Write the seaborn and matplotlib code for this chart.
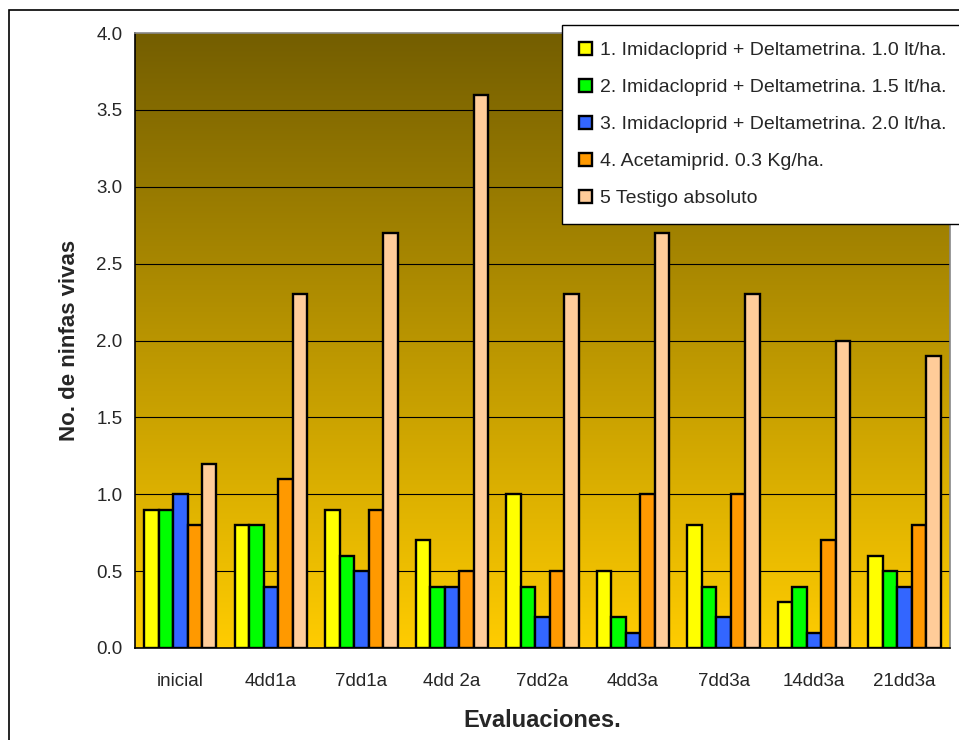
import numpy as np
import pandas as pd
import seaborn as sns
import matplotlib.pyplot as plt
from matplotlib.colors import LinearSegmentedColormap
from matplotlib.patches import Rectangle

evaluaciones = ["inicial", "4dd1a", "7dd1a", "4dd 2a", "7dd2a",
                "4dd3a", "7dd3a", "14dd3a", "21dd3a"]
tratamientos = ["1. Imidacloprid + Deltametrina. 1.0 lt/ha.",
                "2. Imidacloprid + Deltametrina. 1.5 lt/ha.",
                "3. Imidacloprid + Deltametrina. 2.0 lt/ha.",
                "4. Acetamiprid. 0.3 Kg/ha.",
                "5 Testigo absoluto"]
t1 = [0.9, 0.8, 0.9, 0.7, 1.0, 0.5, 0.8, 0.3, 0.6]
t2 = [0.9, 0.8, 0.6, 0.4, 0.4, 0.2, 0.4, 0.4, 0.5]
t3 = [1.0, 0.4, 0.5, 0.4, 0.2, 0.1, 0.2, 0.1, 0.4]
t4 = [0.8, 1.1, 0.9, 0.5, 0.5, 1.0, 1.0, 0.7, 0.8]
t5 = [1.2, 2.3, 2.7, 3.6, 2.3, 2.7, 2.3, 2.0, 1.9]
colores = ["#ffff00", "#00ff00", "#3366ff", "#ff9900", "#ffcc99"]

rows = []
for trat, vals in zip(tratamientos, [t1, t2, t3, t4, t5]):
    for ev, v in zip(evaluaciones, vals):
        rows.append({"eval": ev, "valor": v, "trat": trat})
df = pd.DataFrame(rows)

sns.set_style("white")
plt.rcParams['font.family'] = ['Liberation Sans', 'DejaVu Sans']

fig = plt.figure(figsize=(9.59, 7.40), dpi=100)
ax = fig.add_axes([135 / 959, 92 / 740, 815 / 959, 615 / 740])

# fondo degradado
cmap = LinearSegmentedColormap.from_list("fondo", ["#ffcc00", "#745e00"])
grad = np.linspace(0, 1, 256).reshape(-1, 1)
ax.imshow(grad, cmap=cmap, origin="lower", aspect="auto",
          extent=[-0.5, 8.5, 0, 4], zorder=0)

for y in np.arange(0.5, 4.0, 0.5):
    ax.axhline(y, color="black", linewidth=0.8, zorder=1)

sns.barplot(data=df, x="eval", y="valor", hue="trat", palette=colores,
            saturation=1, edgecolor="black", linewidth=1.7, gap=0, width=0.8,
            errorbar=None, ax=ax, zorder=2)

ax.set_xlim(-0.5, 8.5)
ax.set_ylim(0, 4)
ax.set_yticks(np.arange(0, 4.01, 0.5))
ax.set_yticklabels([f"{v:.1f}" for v in np.arange(0, 4.01, 0.5)],
                   fontsize=13.5)
ax.set_xticks(range(len(evaluaciones)))
ax.set_xticklabels(evaluaciones, fontsize=13.5)
ax.set_xticks(np.arange(-0.5, 8.6, 1), minor=True)
ax.tick_params(axis="x", which="major", length=0, pad=18)
ax.tick_params(axis="x", which="minor", length=5, width=1, color="black",
               direction="out")
ax.tick_params(axis="y", length=5, width=1, color="black", direction="out",
               pad=4)
ax.set_xlabel("Evaluaciones.", fontsize=17, fontweight="bold", labelpad=14)
ax.set_ylabel("No. de ninfas vivas", fontsize=16, fontweight="bold",
              labelpad=12)

for s in ["left", "bottom"]:
    ax.spines[s].set_color("black")
    ax.spines[s].set_linewidth(1.2)
for s in ["top", "right"]:
    ax.spines[s].set_color("#888888")
    ax.spines[s].set_linewidth(1.2)

handles, labels = ax.get_legend_handles_labels()
ax.get_legend().remove()
leg = fig.legend(handles, labels, loc="upper left",
                 bbox_to_anchor=(562 / 959, 1 - 25 / 740),
                 fontsize=14, frameon=True, fancybox=False,
                 handlelength=0.7, handleheight=0.7, handletextpad=0.4,
                 labelspacing=1.0, borderpad=0.85, borderaxespad=0)
leg.get_frame().set_edgecolor("black")
leg.get_frame().set_linewidth(1.0)
leg.get_frame().set_alpha(1)

# marco exterior del gráfico
fig.patches.append(Rectangle((9 / 959, -0.1), 2, 1.1 - 10 / 740,
                             transform=fig.transFigure, fill=False,
                             edgecolor="black", linewidth=1.2))

fig.savefig("out.png", dpi=100)
